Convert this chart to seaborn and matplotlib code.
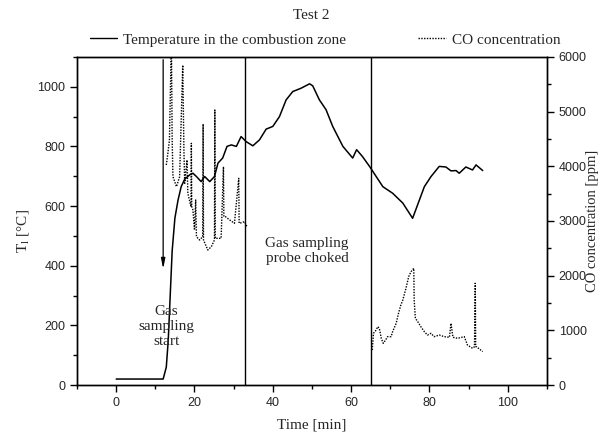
import numpy as np
import pandas as pd
import matplotlib
matplotlib.use("Agg")
import matplotlib.pyplot as plt
import seaborn as sns
from matplotlib.lines import Line2D
from matplotlib.ticker import MultipleLocator

# ---- data ----
temp_time = [0, 12, 12.8, 13.3, 13.8, 14.3, 15.0, 15.8, 16.6, 17.5, 18.8, 19.6, 20.5, 21.7,
             22.6, 23.9, 25.1, 26.0, 27.2, 28.3, 29.4, 30.7, 31.9, 33.2, 34.9, 36.6,
             38.3, 40.0, 41.7, 43.4, 45.1, 47.2, 49.4, 50.2, 51.9, 53.6, 55.3, 57.9,
             60.4, 61.4, 62.9, 64.7, 68.1, 70.6, 73.2, 75.7, 78.7, 80.4, 82.5, 84.2,
             85.5, 86.8, 87.6, 89.3, 91.0, 91.9, 93.6]
temp_val = [20, 20, 60, 150, 300, 450, 560, 620, 665, 690, 705, 710, 699, 682,
            699, 682, 699, 744, 761, 800, 805, 800, 833, 816, 802, 822,
            858, 867, 900, 956, 984, 995, 1010, 1003, 956, 923, 867, 800,
            761, 789, 766, 733, 665, 643, 610, 559, 665, 699, 733, 731,
            718, 719, 710, 731, 721, 738, 719]

co1_time = [12.8, 13.2, 13.6, 14.1, 14.3, 14.5, 15.4, 16.2, 17.0, 17.3, 17.5, 18.1, 18.3,
            19.1, 19.2, 19.3, 19.6, 20.0, 20.3, 20.5, 21.3, 22.1, 22.2, 22.3, 23.4, 24.3,
            25.1, 25.2, 25.3, 26.0, 26.8, 27.4, 27.5, 27.9, 29.0, 30.2, 31.3, 31.4, 31.5,
            32.8, 33.4]
co1_val = [4024, 4238, 4481, 6300, 4481, 3810, 3627, 3810, 5850, 4298, 3690, 4116, 3506,
           3262, 4420, 3262, 3201, 2835, 3384, 2713, 2652, 2713, 4774, 2652, 2469, 2530,
           2652, 5030, 2683, 2683, 2683, 3993, 3079, 3079, 3018, 2957, 3780, 2957, 2957,
           2988, 2896]

co2_time = [65.4, 65.7, 66.4, 66.8, 67.2, 67.7, 68.2, 68.8, 69.3, 70.2, 70.6, 71.5, 72.1,
            72.7, 73.2, 74.0, 74.7, 75.3, 76.0, 76.1, 76.4, 77.0, 77.8, 78.7, 79.5, 80.4,
            81.2, 82.5, 83.8, 85.1, 85.5, 86.0, 87.2, 88.9, 89.7, 91.0, 91.5, 91.7, 91.8,
            92.0, 93.6]
co2_val = [640, 945, 1006, 1067, 1037, 854, 762, 823, 884, 884, 975, 1128, 1311,
           1463, 1555, 1768, 1981, 2073, 2134, 1555, 1220, 1159, 1067, 975, 914, 945,
           884, 914, 884, 872, 1128, 872, 854, 884, 732, 671, 701, 1860, 701,
           701, 610]

x_ticks = [0, 20, 40, 60, 80, 100]
left_ticks = [0, 200, 400, 600, 800, 1000]
right_ticks = [0, 1000, 2000, 3000, 4000, 5000, 6000]
event_times = [33, 65]
arrow_time = 12

temp_df = pd.DataFrame({"time": temp_time, "T": temp_val})
co_df = pd.DataFrame({
    "time": co1_time + co2_time,
    "CO": co1_val + co2_val,
    "seg": [1] * len(co1_time) + [2] * len(co2_time),
})

sns.set_style("ticks")
serif = ["Liberation Serif", "DejaVu Serif"]
sans = ["Liberation Sans", "DejaVu Sans"]
plt.rcParams["font.family"] = sans
plt.rcParams["xtick.direction"] = "out"
plt.rcParams["ytick.direction"] = "out"

fig = plt.figure(figsize=(6.04, 4.38), dpi=100)
ax = fig.add_axes([0.1275, 0.121, 0.778, 0.749])
ax2 = ax.twinx()

sns.lineplot(data=temp_df, x="time", y="T", ax=ax, color="black", lw=1.1,
             sort=False, estimator=None)
sns.lineplot(data=co_df, x="time", y="CO", units="seg", ax=ax2, color="black",
             lw=1.0, linestyle=(0, (1, 1)), sort=False, estimator=None)

ax.set_xlim(-10, 110)
ax.set_ylim(0, 1100)
ax2.set_ylim(0, 6000)

ax.set_xticks(x_ticks)
ax.xaxis.set_minor_locator(MultipleLocator(10))
ax.set_yticks(left_ticks)
ax.yaxis.set_minor_locator(MultipleLocator(100))
ax2.set_yticks(right_ticks)
ax2.yaxis.set_minor_locator(MultipleLocator(500))

for a in (ax, ax2):
    a.tick_params(which="major", length=5, width=1, labelsize=9, color="black")
    a.tick_params(which="minor", length=3, width=1, color="black")
    for s in a.spines.values():
        s.set_visible(True)
        s.set_linewidth(1.0)
        s.set_color("black")

ax.set_xlabel("Time [min]", fontsize=11, family=serif, labelpad=7)
ax.set_ylabel("T$_\\mathregular{l}$ [°C]", fontsize=11, family=serif)
ax2.set_ylabel("CO concentration [ppm]", fontsize=10.5, family=serif)
ax.yaxis.set_label_coords(-0.095, 0.47)
ax2.yaxis.set_label_coords(1.083, 0.5)

for t in event_times:
    ax.axvline(t, color="black", lw=1.0)

ax.annotate("", xy=(arrow_time, 380), xytext=(arrow_time, 1100),
            arrowprops=dict(arrowstyle="-|>,head_width=0.12,head_length=0.6",
                            color="black", lw=0.9))
ax.text(12.8, 195, "Gas\nsampling\nstart", ha="center", va="center",
        fontsize=11, family=serif, linespacing=1.2)
ax.text(48.7, 450, "Gas sampling\nprobe choked", ha="center", va="center",
        fontsize=11, family=serif, linespacing=1.2)

fig.text(0.515, 0.965, "Test 2", ha="center", va="center", fontsize=11, family=serif)
handles = [Line2D([], [], color="black", lw=1.0),
           Line2D([], [], color="black", lw=1.0, linestyle=(0, (1, 1)))]
fig.legend(handles, ["Temperature in the combustion zone", "CO concentration"],
           loc="center", bbox_to_anchor=(0.538, 0.909), ncol=2, frameon=False,
           prop={"family": serif, "size": 11}, handlelength=1.8, columnspacing=4.7,
           handletextpad=0.4)

fig.savefig("out.png", dpi=100)
